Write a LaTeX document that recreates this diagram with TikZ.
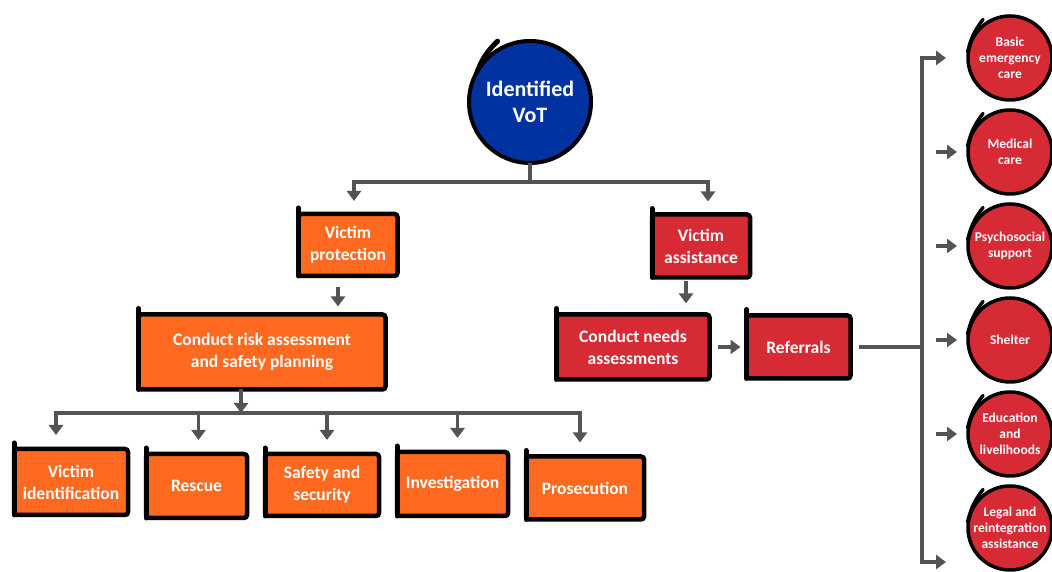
\documentclass[tikz,border=0pt]{standalone}
\usepackage{fontspec}
\setsansfont{Carlito}
\usetikzlibrary{arrows.meta, positioning, calc}
\usepackage{xcolor}
\definecolor{ProtFill}  {RGB}{255,106,32}
\definecolor{AssistFill}{RGB}{214,42,52}
\definecolor{VoTFill}   {RGB}{0,51,160}
\definecolor{ArrLine}   {RGB}{84,84,84}
\tikzset{
  % brush stroke used for the hand-drawn look
  tick/.style={draw=black, line width=5pt, line cap=round},
  % filled box with thick black border (fill colour as argument)
  sbox/.style={
    rectangle, rounded corners=3pt,
    draw=black, fill=#1, line width=4.5pt,
    text=white, align=center, inner sep=2pt, outer sep=0pt,
    font=\sffamily\bfseries\fontsize{17.5}{22}\selectfont,
    append after command={
      (\tikzlastnode.north west) edge[tick, shorten <=-6pt] (\tikzlastnode.south west)}
  },
  sbox/.default=ProtFill,
  % round service nodes on the right
  care/.style={
    circle, draw=black, fill=AssistFill, line width=3.5pt,
    text=white, align=center, inner sep=0pt, outer sep=0pt,
    minimum size=84pt,
    font=\sffamily\bfseries\fontsize{13.5}{16}\selectfont
  },
  vot/.style={
    circle, draw=black, fill=VoTFill, line width=4pt,
    text=white, align=center, inner sep=0pt, outer sep=0pt,
    minimum size=122pt,
    font=\sffamily\bfseries\fontsize{22}{26}\selectfont
  },
  conn/.style={draw=ArrLine, line width=3.5pt},
  arr/.style={conn, -{Triangle[width=14pt, length=10pt]}}
}

\begin{document}
\begin{tikzpicture}[x=1pt, y=1pt, node distance=18pt]
  \useasboundingbox (0,0) rectangle (1052,572);

  %% ── Identified VoT ───────────────────────────────────────────────────────
  \node[vot] (vot) at (530,470) {Identified\\VoT};

  %% ── Victim protection (left) ─────────────────────────────────────────────
  \node[sbox=ProtFill, minimum width=99pt, minimum height=62pt] (prot) at (348,327)
    {Victim\\protection};
  \node[sbox=ProtFill, minimum width=247pt, minimum height=75pt] (risk) at (262,220)
    {Conduct risk assessment\\and safety planning};

  \node[sbox=ProtFill, minimum width=114pt, minimum height=66pt] (vid) at (71,90)
    {Victim\\identification};
  \node[sbox=ProtFill, minimum width=101pt, minimum height=64pt, right=of vid, yshift=-4pt] (resc)
    {Rescue};
  \node[sbox=ProtFill, minimum width=114pt, minimum height=62pt, right=of resc, yshift=1pt] (safe)
    {Safety and\\security};
  \node[sbox=ProtFill, minimum width=111pt, minimum height=64pt, right=of safe, yshift=1pt] (inv)
    {Investigation};
  \node[sbox=ProtFill, minimum width=118pt, minimum height=63pt, right=of inv, yshift=-4pt] (pros)
    {Prosecution};

  %% ── Victim assistance (right) ────────────────────────────────────────────
  \node[sbox=AssistFill, minimum width=98pt, minimum height=63pt] (assist) at (701,326)
    {Victim\\assistance};
  \node[sbox=AssistFill, minimum width=153pt, minimum height=65pt] (needs) at (633,225)
    {Conduct needs\\assessments};
  \node[sbox=AssistFill, minimum width=104pt, minimum height=63pt, right=37pt of needs] (refs)
    {Referrals};

  \node[care] (c1) at (1010,514) {Basic\\emergency\\care};
  \node[care, below=10pt of c1] (c2) {Medical\\care};
  \node[care, below=10pt of c2] (c3) {Psychosocial\\support};
  \node[care, below=10pt of c3] (c4) {Shelter};
  \node[care, below=10pt of c4] (c5) {Education\\and\\livelihoods};
  \node[care, below=10pt of c5] (c6) {Legal and\\reintegration\\assistance};

  % brush ticks on the round nodes
  \draw[tick] ($(vot.center)!1.0!(vot.150)$) to[bend left=12] ($(vot.center)!1.13!(vot.118)$);
  \foreach \n in {c1,c2,c3,c4,c5,c6}
    \draw[tick, line width=3.5pt] ($(\n.center)!1.02!(\n.172)$) to[bend left=12] ($(\n.center)!1.12!(\n.125)$);

  %% ── Connectors ───────────────────────────────────────────────────────────
  \coordinate (topbar) at (530,390);
  \draw[conn] (vot.south) -- (topbar);
  \draw[arr, shorten >=13pt] (topbar) -| ([xshift=6pt]prot.north);
  \draw[arr, shorten >=13pt] (topbar) -| ([xshift=7pt]assist.north);

  \draw[arr, shorten <=11pt, shorten >=8pt] ([xshift=-10pt]prot.south)
    -- ([xshift=-10pt]prot.south |- risk.north);

  \coordinate (lowbar) at (241,159);
  \draw[arr] ([xshift=-21pt]risk.south) -- (lowbar);
  \foreach \n/\dx in {vid/-15, resc/2, safe/5, inv/5, pros/-5}
    \draw[arr, shorten >=14pt] (lowbar) -| ([xshift=\dx pt]\n.north);

  \draw[arr, shorten <=4pt, shorten >=11pt] ([xshift=-15pt]assist.south)
    -- ([xshift=-15pt]assist.south |- needs.north);
  \draw[arr, shorten <=8pt, shorten >=6pt] (needs.east) -- (needs.east -| refs.west);

  \coordinate (rbar) at (922,225);
  \draw[conn, shorten <=8pt] (refs.east) -- (rbar);
  \draw[arr, shorten >=22pt] (rbar) |- (c1.west);
  \draw[arr, shorten >=22pt] (rbar) |- ([yshift=-34pt]c6.west);
  \foreach \n in {c2,c3,c4,c5}
    \draw[arr] ([xshift=-32pt]\n.west) -- ([xshift=-11pt]\n.west);

\end{tikzpicture}
\end{document}
